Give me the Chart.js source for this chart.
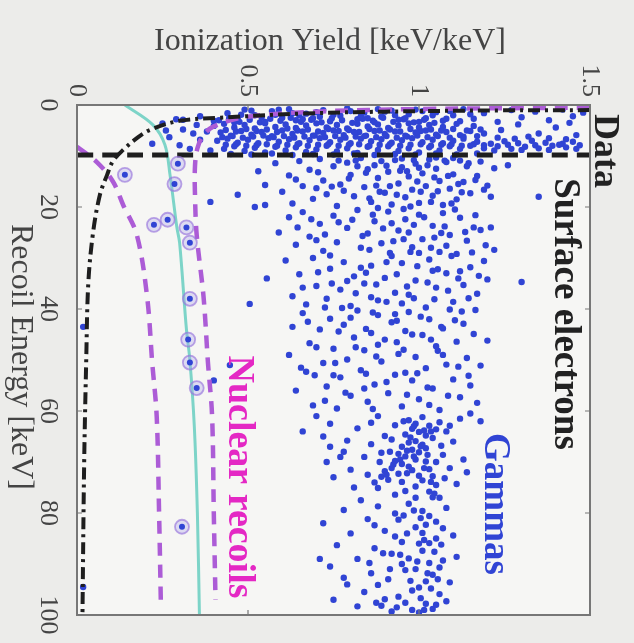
<!DOCTYPE html>
<html>
<head>
<meta charset="utf-8">
<script src="https://cdn.jsdelivr.net/npm/chart.js@4.4.1/dist/chart.umd.min.js"></script>
<style>
  html, body { margin: 0; padding: 0; background: #ececea; }
  canvas { display: block; }
</style>
</head>
<body>
<canvas id="yieldChart" width="634" height="643"></canvas>
<script>
// axis ticks
const yieldTicks = [0, 0.5, 1, 1.5];
const yieldTickLabels = ['0', '0.5', '1', '1.5'];
const energyTicks = [0, 20, 40, 60, 80, 100];
const energyTickLabels = ['0', '20', '40', '60', '80', '100'];

// data points [yield, recoil energy]
const lowEnergyStrip = [
  [0.31,2.9],[0.36,2.2],[0.40,3.1],[0.44,1.6],[0.47,2.7],[0.49,0.9],[0.52,2.0],[0.55,3.3],[0.57,1.2],[0.60,2.5],
  [0.62,0.8],[0.64,3.0],[0.67,1.7],[0.69,2.6],[0.72,1.0],[0.74,3.2],[0.77,2.1],[0.79,0.7],[0.82,2.8],[0.84,1.5],
  [0.87,3.4],[0.89,2.3],[0.92,1.1],[0.94,2.9],[0.97,1.8],[0.99,0.9],[1.02,2.6],[1.05,1.4],[1.07,3.1],[1.10,2.0],
  [1.13,0.8],[1.16,2.7],[1.19,1.6],[1.23,3.3],[1.27,1.0],[1.30,2.4],[1.34,1.3],[1.38,3.0],[1.42,0.9],[1.45,2.2],
  [1.48,1.5],[0.58,1.9],[0.71,2.3],[0.85,2.6],[1.00,3.3],[0.46,3.4],[0.65,2.0],[0.90,1.3],
  [0.48,1.9],[0.51,1.1],[0.54,2.4],[0.59,0.9],[0.63,1.6],[0.66,2.8],[0.70,1.4],[0.75,1.9],[0.80,1.2],[0.83,2.2],
  [0.88,0.8],[0.93,2.0],[0.96,2.6],[1.01,1.2],[1.04,2.0],[1.09,1.2],[1.15,1.8]
];
const surfaceBand = [
  [0.40,4.1],[0.43,3.7],[0.46,4.4],[0.49,3.9],[0.52,4.6],[0.55,3.6],[0.58,4.3],[0.61,3.8],[0.64,4.5],[0.67,4.0],
  [0.70,3.6],[0.73,4.4],[0.76,3.9],[0.79,4.6],[0.82,3.7],[0.85,4.2],[0.88,3.8],[0.91,4.5],[0.94,4.0],[0.97,3.6],
  [1.00,4.4],[1.03,3.9],[1.07,4.3],[1.11,3.7],[1.16,4.1],
  [0.42,5.4],[0.45,6.0],[0.48,5.1],[0.51,5.8],[0.54,5.3],[0.57,6.1],[0.60,5.0],[0.63,5.7],[0.66,5.2],[0.69,6.0],
  [0.72,5.5],[0.75,5.0],[0.78,5.9],[0.81,5.3],[0.84,6.1],[0.87,5.1],[0.90,5.7],[0.93,5.2],[0.96,6.0],[0.99,5.4],
  [1.02,5.0],[1.05,5.8],[1.08,5.3],[1.12,5.9],[1.15,5.1],[1.19,5.6],
  [0.41,7.0],[0.44,6.6],[0.47,7.4],[0.50,6.8],[0.53,7.5],[0.56,6.5],[0.59,7.2],[0.62,6.7],[0.65,7.5],[0.68,6.9],
  [0.71,6.5],[0.74,7.3],[0.77,6.8],[0.80,7.5],[0.83,6.6],[0.86,7.1],[0.89,6.7],[0.92,7.4],[0.95,6.9],[0.98,6.5],
  [1.01,7.3],[1.04,6.8],[1.07,7.5],[1.10,7.0],[1.13,6.6],[1.17,7.2],[1.21,7.6],[1.25,7.1],[1.29,7.5],[1.33,7.0],
  [1.37,7.4],[1.41,7.8],[1.45,7.2],
  [0.43,8.6],[0.46,8.1],[0.49,9.0],[0.52,8.4],[0.55,9.3],[0.58,8.2],[0.61,8.9],[0.64,8.3],[0.67,9.2],[0.70,8.7],
  [0.73,8.0],[0.76,9.1],[0.79,8.5],[0.82,9.4],[0.85,8.2],[0.88,8.8],[0.91,8.1],[0.94,9.0],[0.97,8.5],[1.00,9.3],
  [1.03,8.3],[1.06,8.9],[1.09,8.1],[1.12,8.6],[1.15,8.0],[1.19,8.5],[1.23,8.1],[1.27,8.6],[1.31,8.2],[1.35,8.5],
  [1.39,8.0],[1.43,8.3],[1.47,7.9],
  [1.24,4.9],[1.29,3.8],[1.35,5.6],[1.40,4.4],[1.46,5.9],[1.44,3.5],[1.32,6.2],
  [0.22,7.6],[0.25,3.6],[0.27,6.3],[0.29,2.8],[0.31,4.8],[0.33,8.6],[0.35,3.9],[0.36,6.8],[0.38,5.2],[0.39,8.9],
  [0.34,5.6],[0.30,7.9],[0.26,5.0]
];
const surfaceBandFill = [
  [0.415,3.0],[0.445,2.6],[0.475,3.3],[0.505,2.9],[0.535,3.4],[0.565,2.7],[0.595,3.1],[0.625,2.5],[0.655,3.3],[0.685,2.9],
  [0.715,3.4],[0.745,2.6],[0.775,3.0],[0.805,3.5],[0.835,2.7],[0.865,3.1],[0.895,2.5],[0.925,3.3],[0.955,2.8],[0.985,3.4],
  [1.015,2.9],[1.045,3.5],[1.08,2.7],[1.12,3.2],
  [0.435,4.9],[0.465,5.2],[0.495,4.7],[0.525,5.1],[0.555,4.8],[0.585,5.3],[0.615,4.6],[0.645,5.0],[0.675,4.8],[0.705,5.2],
  [0.735,4.7],[0.765,5.1],[0.795,4.9],[0.825,5.3],[0.855,4.7],[0.885,5.0],[0.915,4.8],[0.945,5.2],[0.975,4.7],[1.005,5.1],
  [1.035,4.8],[1.065,5.0],[1.10,4.7],[1.14,5.0],[1.18,4.8],
  [0.425,6.3],[0.455,6.1],[0.485,6.4],[0.515,6.2],[0.545,6.0],[0.575,6.3],[0.605,6.1],[0.635,6.4],[0.665,6.2],[0.695,6.0],
  [0.725,6.3],[0.755,6.1],[0.785,6.4],[0.815,6.2],[0.845,6.0],[0.875,6.3],[0.905,6.1],[0.935,6.4],[0.965,6.2],[0.995,6.0],
  [1.025,6.3],[1.055,6.1],[1.09,6.4],[1.13,6.2],[1.17,6.1],[1.23,6.4],[1.28,6.6],[1.38,6.5],[1.43,6.7],
  [0.435,7.8],[0.465,7.7],[0.495,8.0],[0.525,7.9],[0.555,7.7],[0.585,8.0],[0.615,7.8],[0.645,7.7],[0.675,8.0],[0.705,7.8],
  [0.735,7.7],[0.765,8.0],[0.795,7.8],[0.825,7.7],[0.855,8.0],[0.885,7.8],[0.915,7.7],[0.945,8.0],[0.975,7.8],[1.005,7.7],
  [1.035,8.0],[1.065,7.8],[1.095,7.7],[1.125,8.0],[1.16,7.7],[1.19,7.9],[1.22,8.9],[1.26,7.8],[1.30,8.8],[1.34,7.9],
  [1.38,8.8],[1.42,7.6],[1.46,8.6],
  [0.45,9.6],[0.51,9.7],[0.57,9.5],[0.63,9.8],[0.69,9.6],[0.75,9.7],[0.81,9.5],[0.87,9.8],[0.93,9.6],[0.99,9.7],
  [1.05,9.5],[1.11,9.7],[1.17,9.5]
];
const gammaBand = [
  // 10 - 20 keV
  [0.47,17.6],[0.53,13.0],[0.52,20.0],[0.55,19.6],[0.55,15.7],[0.58,11.4],[0.60,17.0],[0.62,13.8],[0.63,19.3],[0.65,11.0],
  [0.66,15.9],[0.68,12.7],[0.69,18.4],[0.71,10.6],[0.72,14.8],[0.73,17.5],[0.75,12.0],[0.76,19.8],[0.77,15.6],[0.79,11.3],
  [0.80,13.7],[0.81,17.9],[0.83,10.4],[0.84,16.1],[0.85,12.6],[0.86,19.0],[0.88,14.3],[0.89,11.0],[0.90,17.2],[0.91,13.1],
  [0.92,19.5],[0.93,10.8],[0.94,15.4],[0.95,12.2],[0.96,18.1],[0.97,14.0],[0.98,16.6],[0.99,11.5],[1.00,19.2],[1.01,13.4],
  [1.02,15.9],[1.03,10.7],[1.04,17.8],[1.05,12.5],[1.06,14.9],[1.07,19.6],[1.08,11.2],[1.09,16.4],[1.10,13.6],[1.11,18.5],
  [1.12,10.9],[1.13,15.1],[1.14,12.0],[1.15,17.3],[1.17,13.9],[1.18,11.1],[1.20,15.8],[1.22,12.4],[1.21,18.0],[1.35,18.0],
  [1.26,11.8],[0.87,11.8],[0.78,16.8],[0.95,10.5],[1.00,12.3],[1.05,10.3],[1.10,10.4],[0.82,12.0],[0.70,16.3],[0.64,14.6],
  [0.39,19.0],
  // 20 - 40 keV
  [0.555,34.0],[0.505,39.0],[0.59,25.0],[0.61,30.5],[0.62,22.0],[0.63,37.5],[0.64,27.4],[0.65,33.2],[0.66,21.0],[0.67,39.1],
  [0.68,25.8],[0.69,30.0],[0.70,35.5],[0.71,23.3],[0.72,28.6],[0.73,38.0],[0.74,32.1],[0.75,21.7],[0.76,26.9],[0.77,36.2],
  [0.78,30.8],[0.79,24.1],[0.80,39.4],[0.81,33.6],[0.82,20.6],[0.83,28.0],[0.84,35.0],[0.85,25.2],[0.86,31.5],[0.87,22.8],
  [0.88,38.3],[0.89,27.1],[0.90,33.9],[0.91,20.9],[0.92,29.6],[0.93,36.8],[0.94,24.6],[0.95,31.0],[0.96,22.4],[0.97,37.2],
  [0.98,27.9],[0.99,34.4],[1.00,21.5],[1.01,26.3],[1.02,39.7],[1.03,30.3],[1.04,23.7],[1.05,35.8],[1.06,28.8],[1.07,21.2],
  [1.08,33.0],[1.09,25.5],[1.10,38.6],[1.11,29.2],[1.12,22.1],[1.13,35.3],[1.14,26.6],[1.15,31.8],[1.16,24.0],[1.17,37.0],
  [1.18,24.5],[1.19,30.6],[1.21,24.0],[1.20,34.2],[1.30,34.7],[1.22,28.4],[0.74,29.5],[0.86,37.7],[0.97,25.0],[1.04,32.5],
  [0.79,34.5],[0.92,23.2],[1.08,27.6],[0.70,26.5],[0.83,31.9],[1.00,29.0],[1.12,32.6],[0.66,35.8],[0.95,38.9],[0.88,20.2],
  // 40 - 60 keV
  [0.62,49.0],[0.63,43.5],[0.64,56.0],[0.66,40.8],[0.67,52.3],[0.68,46.7],[0.69,58.9],[0.71,44.0],[0.72,50.6],[0.73,55.2],
  [0.74,41.9],[0.75,47.8],[0.76,59.5],[0.77,53.4],[0.78,43.1],[0.79,49.9],[0.80,57.0],[0.81,45.6],[0.82,40.3],[0.83,52.0],
  [0.84,48.1],[0.85,58.2],[0.86,44.7],[0.87,54.8],[0.88,41.2],[0.89,50.3],[0.90,46.0],[0.91,56.5],[0.92,42.6],[0.93,52.9],
  [0.94,48.8],[0.95,59.1],[0.96,44.3],[0.97,40.6],[0.98,54.0],[0.99,49.4],[1.00,57.7],[1.01,45.1],[1.02,51.6],[1.03,42.0],
  [1.04,55.6],[1.05,47.3],[1.06,59.8],[1.07,43.8],[1.08,50.9],[1.09,40.1],[1.10,53.8],[1.11,46.4],[1.12,57.3],[1.13,42.9],
  [1.14,49.6],[1.15,55.0],[1.16,44.9],[1.18,51.1],[1.20,46.2],[1.17,58.4],[0.447,51.0],[0.40,54.0],[0.75,53.0],[0.88,47.0],
  [0.98,45.0],[1.03,58.8],[0.70,47.5],[0.84,55.6],[0.93,41.0],[1.07,49.0],[0.80,41.7],[0.96,52.5],[0.018,43.5]
];
const gammaBandFill = [
  [0.815,10.9],[0.845,13.3],[0.875,15.8],[0.905,11.9],[0.935,17.6],[0.965,13.0],[0.995,15.0],[1.025,11.8],[1.055,16.9],[1.085,13.9],
  [1.115,15.5],[1.145,11.4],[1.165,14.7],[1.035,19.0],[0.975,19.9],[0.915,15.9],[0.855,18.3],[0.795,14.4],[0.745,16.0],[0.705,13.2],
  [0.765,10.9],[0.985,10.8],[1.075,10.9],[1.045,14.2],[0.945,12.9],[0.885,17.0],[1.125,17.1],[1.005,17.0],[1.095,19.3],[1.19,16.6],
  [0.805,22.5],[0.835,25.7],[0.865,21.5],[0.895,24.2],[0.925,26.7],[0.955,20.4],[0.985,23.5],[1.015,22.0],[1.045,26.0],[1.075,23.8],
  [1.105,20.5],[1.135,24.9],[1.165,21.6],[1.195,27.5],[0.765,23.0],[0.725,25.4],[0.855,28.4],[0.915,29.0],[0.975,28.8],[1.035,28.0],
  [1.095,29.6],[0.685,22.4],[0.645,24.0],[0.955,26.3],[1.065,25.1],[1.155,28.9],
  [0.815,36.9],[0.845,32.9],[0.875,35.2],[0.905,30.8],[0.935,33.2],[0.965,35.6],[0.995,31.6],[1.025,34.8],[1.055,32.2],[1.085,36.4],
  [1.115,34.0],[1.145,37.9],[1.175,33.5],[0.745,35.0],[0.705,32.8],[0.775,39.8],[0.865,40.7],[0.935,42.3],[1.005,41.5],[1.065,43.5],
  [1.125,40.5],[0.675,42.5],[0.765,44.4],[0.845,43.9],[0.905,38.6],[0.985,37.9],[1.045,38.1],[1.105,42.2],[1.165,40.2],[0.725,39.7],
  [0.815,47.5],[0.875,49.3],[0.935,46.5],[0.995,52.6],[1.055,48.2],[1.115,51.3],[0.755,50.6],[0.695,53.0],[0.845,52.7],[0.905,54.3],
  [0.965,56.8],[1.025,55.4],[1.085,57.0],[1.145,53.1],[0.785,56.4],[0.725,58.0],[0.865,59.6],[0.955,48.0],[1.035,46.0],[0.655,51.5]
];
const peakCluster = [
  [0.97,61.8],[0.99,62.5],[1.01,61.2],[1.03,62.9],[1.05,63.6],[1.06,62.2],[1.00,64.1],[1.02,64.8],[0.98,63.5],[1.04,65.3],
  [0.96,64.6],[0.99,65.9],[1.01,66.6],[0.97,66.2],[0.95,67.0],[0.98,67.6],[1.00,68.1],[1.02,67.3],[0.94,68.4],[0.96,68.9],
  [0.99,69.5],[0.93,69.8],[0.95,70.4],[0.97,70.9],[0.92,71.2],[0.90,71.8],[0.94,72.3],[0.89,72.9],[0.91,73.5],[0.87,74.0],
  [0.88,75.1],[1.02,69.9],[1.03,71.4],[1.04,72.8],[1.01,73.6],[1.05,74.5],[1.03,75.8],[1.06,77.0],[1.04,76.9],[1.08,64.0],
  [1.10,66.0],[0.93,62.8],[0.90,64.9],[0.86,66.5],[0.84,69.0],[0.80,71.5],[0.78,68.0],[0.75,73.0],[0.72,65.0],[0.70,61.0],
  [0.74,62.5],[0.82,63.4],[0.88,61.0],[1.12,61.5],[1.15,60.5],[1.18,62.0],[1.13,69.5],[1.09,71.2],[1.11,74.3],[1.14,72.0],
  [0.99,74.8],[0.96,75.7],[0.93,76.4],[0.85,72.5],[0.81,75.0],[1.07,68.6],[1.05,70.0],[0.92,65.6],[0.89,68.2],[0.98,71.6],
  [1.00,72.7],[0.95,73.9],[1.09,62.9],[0.86,62.3],[0.79,65.8],[0.66,64.0],[0.74,67.0],[0.73,70.0],[0.77,69.0],
  [0.985,63.0],[1.015,63.8],[1.035,64.0],[0.975,65.2],[1.005,66.9],[0.965,67.8],[0.985,68.9],[0.945,69.5],[0.925,70.5],[0.905,72.5],
  [0.965,72.2],[1.025,68.6],[1.015,71.2],[1.035,73.9],[1.045,76.2],[0.915,68.0],[0.885,70.0],[1.065,66.8],[1.075,73.2],[0.955,62.0]
];
const highEnergyTail = [
  [0.72,82.0],[0.74,90.5],[0.75,97.0],[0.76,86.3],[0.78,79.4],[0.79,94.0],[0.80,84.0],[0.82,89.0],[0.83,77.5],[0.84,95.5],
  [0.85,81.2],[0.86,91.8],[0.87,86.9],[0.88,78.7],[0.89,98.2],[0.90,83.5],[0.91,93.0],[0.92,88.0],[0.93,80.1],[0.94,96.4],
  [0.95,85.7],[0.96,91.2],[0.97,78.2],[0.98,99.0],[0.99,82.8],[1.00,94.6],[1.01,87.4],[1.02,97.8],[1.03,80.6],[1.04,92.1],
  [1.05,85.0],[1.06,95.9],[1.07,89.3],[1.08,79.0],[1.09,93.6],[1.10,84.4],[1.11,88.6],[1.08,97.3],[0.97,88.9],[0.99,91.0],
  [1.01,83.9],[1.03,89.8],[1.02,93.4],[1.00,86.0],[0.98,95.2],[1.04,98.8],[1.00,99.5],[0.96,97.6],[1.03,85.9],[1.05,81.7],
  [1.01,79.6],[0.95,90.0],[0.93,84.6],[0.90,96.9],[0.87,82.4],[0.82,98.3],[0.78,92.7],[0.71,89.0],[1.06,90.7],[1.02,82.3],
  [0.99,77.0],[0.94,81.3],[0.92,99.3],[0.88,94.1],[1.07,83.0],[1.05,98.0],[0.018,94.5],
  [1.005,81.0],[1.015,85.3],[0.995,89.5],[1.025,91.8],[1.005,96.7],[1.035,94.8],[0.975,93.3],[1.045,87.6],[0.965,84.0],[0.985,79.5],
  [1.055,93.0],[0.945,88.2],[0.915,91.0],[0.895,87.9],[0.855,89.8],[0.935,98.5],[1.015,99.0],[1.065,86.2],[0.955,80.5],[0.875,97.6]
];
// circled nuclear-recoil candidates
const nuclearCandidates = [
  [0.14,13.7],[0.295,11.5],[0.285,15.5],[0.265,22.5],[0.225,23.5],[0.32,24.0],[0.33,27.0],
  [0.33,38.0],[0.325,46.0],[0.33,50.5],[0.35,55.5],[0.307,82.7]
];

// band curves [yield, recoil energy]
const surfaceEdge = [
  [1.5,1.0],[1.24,1.05],[0.9,1.3],[0.65,1.7],[0.42,2.5],[0.30,3.1],[0.213,4.9],[0.175,6.5],[0.135,8.8],
  [0.105,11],[0.088,13.7],[0.067,17.6],[0.047,25],[0.033,35],[0.027,50],[0.021,70],[0.016,100]
];
const thresholdLine = [[0,9.8],[1.5,9.8]];
const nrLower = [
  [0,8.2],[0.058,11.2],[0.105,15],[0.135,19.6],[0.175,25.5],[0.205,37.6],[0.22,50.6],[0.233,61],[0.24,80],[0.245,97]
];
const nrUpper = [
  [1.5,0.5],[1.0,0.8],[0.7,1.3],[0.49,2.4],[0.40,4.2],[0.37,5.9],[0.352,8.5],[0.345,12],[0.345,17.6],
  [0.35,25.5],[0.37,37.6],[0.383,50.6],[0.395,61],[0.40,80],[0.405,97]
];
const nrCenter = [
  [0.14,0],[0.222,3.9],[0.257,7.8],[0.272,13.7],[0.292,24],[0.30,27],[0.32,44],[0.33,50],[0.343,63],[0.352,80],[0.358,100]
];

const toXY = arr => arr.map(p => ({ x: p[0], y: p[1] }));
const dotBlue = 'rgb(48,68,212)';
const serif = '"Liberation Serif", "DejaVu Serif", serif';

function vText(ctx, text, x, y, font, color, align) {
  ctx.save();
  ctx.translate(x, y);
  ctx.rotate(Math.PI / 2);
  ctx.font = font;
  ctx.fillStyle = color;
  ctx.textAlign = align || 'center';
  ctx.textBaseline = 'middle';
  ctx.fillText(text, 0, 0);
  ctx.restore();
}

const frameAndText = {
  id: 'frameAndText',
  beforeDraw(chart) {
    const { ctx, chartArea: a } = chart;
    ctx.save();
    ctx.fillStyle = '#ececea';
    ctx.fillRect(0, 0, chart.width, chart.height);
    ctx.fillStyle = '#f6f6f4';
    ctx.fillRect(a.left, a.top, a.right - a.left, a.bottom - a.top);
    ctx.restore();
  },
  afterDraw(chart) {
    const { ctx, chartArea: a, scales } = chart;
    ctx.save();
    // frame
    ctx.strokeStyle = '#777';
    ctx.lineWidth = 2;
    ctx.strokeRect(a.left, a.top, a.right - a.left, a.bottom - a.top);
    // small inward ticks
    ctx.lineWidth = 1.2;
    yieldTicks.forEach(v => {
      const px = scales.x.getPixelForValue(v);
      ctx.beginPath();
      ctx.moveTo(px, a.top); ctx.lineTo(px, a.top + 5);
      ctx.moveTo(px, a.bottom); ctx.lineTo(px, a.bottom - 5);
      ctx.stroke();
    });
    energyTicks.forEach(v => {
      const py = scales.y.getPixelForValue(v);
      ctx.beginPath();
      ctx.moveTo(a.left, py); ctx.lineTo(a.left + 5, py);
      ctx.moveTo(a.right, py); ctx.lineTo(a.right - 5, py);
      ctx.stroke();
    });
    ctx.restore();

    // tick labels (rotated like the figure)
    yieldTicks.forEach((v, i) => {
      vText(ctx, yieldTickLabels[i], scales.x.getPixelForValue(v), a.top - 8, '26px ' + serif, '#444', 'right');
    });
    energyTicks.forEach((v, i) => {
      vText(ctx, energyTickLabels[i], 48, scales.y.getPixelForValue(v), '26px ' + serif, '#444', 'center');
    });

    // axis titles
    ctx.save();
    ctx.font = '32px ' + serif;
    ctx.fillStyle = '#444';
    ctx.textAlign = 'center';
    ctx.textBaseline = 'middle';
    ctx.fillText('Ionization Yield [keV/keV]', 330, 42);
    ctx.restore();
    vText(ctx, 'Recoil Energy [keV]', 20, 357, '32px ' + serif, '#444');

    // annotations
    vText(ctx, 'Data', 604, 151, 'bold 36px ' + serif, '#222');
    vText(ctx, 'Surface electrons', 565, 314, 'bold 37px ' + serif, '#222');
    vText(ctx, 'Gammas', 495, 504, 'bold 37px ' + serif, dotBlue);
    vText(ctx, 'Nuclear recoils', 239, 477, 'bold 38px ' + serif, 'rgb(228,40,196)');
  }
};

const curve = (data, color, width, dash, order) => ({
  data: toXY(data),
  showLine: true,
  borderColor: color,
  borderWidth: width,
  borderDash: dash,
  pointRadius: 0,
  tension: 0.35,
  order: order
});

const dots = (data) => ({
  data: toXY(data),
  backgroundColor: dotBlue,
  borderWidth: 0,
  pointRadius: 3.2,
  order: 6
});

new Chart(document.getElementById('yieldChart'), {
  type: 'scatter',
  data: {
    datasets: [
      {
        data: toXY(nuclearCandidates),
        backgroundColor: dotBlue,
        borderWidth: 0,
        pointRadius: 3,
        order: 0
      },
      {
        data: toXY(nuclearCandidates),
        backgroundColor: 'rgba(175,165,235,0.35)',
        borderColor: 'rgba(150,115,220,0.65)',
        borderWidth: 1.8,
        pointRadius: 7,
        order: 1
      },
      curve(thresholdLine, '#1e1e1e', 5, [16, 9], 2),
      curve(surfaceEdge, '#1e1e1e', 4, [12, 5, 3, 5], 2),
      curve(nrLower, 'rgb(172,92,214)', 4.5, [13, 9], 3),
      curve(nrUpper, 'rgb(172,92,214)', 4.5, [13, 9], 3),
      curve(nrCenter, 'rgb(125,212,200)', 3, [], 4),
      dots(lowEnergyStrip),
      dots(surfaceBand),
      dots(surfaceBandFill),
      dots(gammaBand),
      dots(gammaBandFill),
      dots(peakCluster),
      dots(highEnergyTail)
    ]
  },
  options: {
    responsive: false,
    animation: false,
    layout: { padding: { left: 77, top: 105, right: 44, bottom: 28 } },
    plugins: { legend: { display: false }, tooltip: { enabled: false } },
    scales: {
      x: { type: 'linear', min: 0, max: 1.5, display: false },
      y: { type: 'linear', min: 0, max: 100, reverse: true, display: false }
    }
  },
  plugins: [frameAndText]
});
</script>
</body>
</html>
